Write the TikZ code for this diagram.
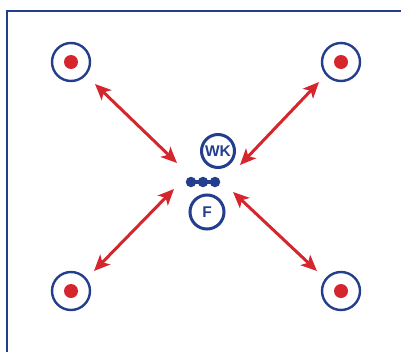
\documentclass[tikz,border=0pt]{standalone}
\usepackage{fontspec}
\setmainfont{Liberation Sans}
\usetikzlibrary{arrows.meta}
\definecolor{navy}{RGB}{35,62,140}
\definecolor{tred}{RGB}{214,38,45}
\tikzset{
  ring/.style={circle,draw=navy,line width=2.4pt,minimum size=38pt,inner sep=0pt},
  dotc/.style={circle,fill=tred,minimum size=14pt,inner sep=0pt},
  player/.style={circle,draw=navy,line width=3pt,minimum size=33pt,inner sep=0pt,text=navy,font=\fontsize{15.5}{15.5}\selectfont\bfseries},
  ball/.style={circle,fill=navy,minimum size=10.5pt,inner sep=0pt},
  dbl/.style={tred,line width=3pt,{Stealth[length=16pt,width=14pt,inset=4pt]}-{Stealth[length=16pt,width=14pt,inset=4pt]}},
}
\begin{document}
\begin{tikzpicture}[x=1pt,y=-1pt]
\useasboundingbox (0,0) rectangle (401,351);
\draw[navy,line width=2.6pt] (7,352) -- (7,11) -- (402,11);
\foreach \n/\x/\y in {tl/71/62,tr/341/62,bl/71/291,br/341/291}{
  \node[ring] (\n) at (\x,\y) {};
  \node[dotc] (\n d) at (\x,\y) {};
}
\node[player] (wk) at (218,151) {WK};
\node[player,minimum size=34pt] (f) at (207,212) {F};
\node[ball] (b1) at (191,182) {};
\node[ball] (b2) at (203,182) {};
\node[ball] (b3) at (215,182) {};
\draw[navy,line width=4pt] (b1.center) -- (b2.center) -- (b3.center);
\coordinate (a1) at (95,84);  \coordinate (a2) at (177,163);
\coordinate (c1) at (319,82); \coordinate (c2) at (240,165);
\coordinate (d1) at (174,189); \coordinate (d2) at (94,271);
\coordinate (e1) at (233,192); \coordinate (e2) at (317,271);
\draw[dbl] (a1) -- (a2);
\draw[dbl] (c1) -- (c2);
\draw[dbl] (d1) -- (d2);
\draw[dbl] (e1) -- (e2);
\end{tikzpicture}
\end{document}
